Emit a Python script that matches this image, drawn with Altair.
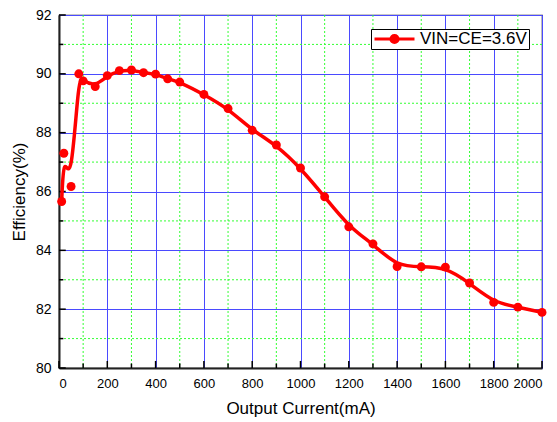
import altair as alt
import pandas as pd

current_ma = [11, 20, 50, 82, 100, 150, 200, 250, 300, 350, 400, 450, 500,
              600, 700, 800, 900, 1000, 1100, 1200, 1300, 1400, 1500, 1600,
              1700, 1800, 1900, 2000]
efficiency = [85.66, 87.30, 86.17, 90.00, 89.76, 89.57, 89.94, 90.11, 90.13,
              90.04, 89.99, 89.83, 89.72, 89.30, 88.82, 88.08, 87.58, 86.80,
              85.82, 84.80, 84.22, 83.45, 83.44, 83.43, 82.89, 82.23, 82.07,
              81.89]
series_name = "VIN=CE=3.6V"

x_major = list(range(0, 2001, 200))
y_major = list(range(80, 93, 2))
x_minor = list(range(100, 2000, 200))
y_minor = list(range(81, 92, 2))

df = pd.DataFrame({"current": current_ma, "eff": efficiency,
                   "series": [series_name] * len(current_ma)})

xscale = alt.Scale(domain=[0, 2000], nice=False, zero=False)
yscale = alt.Scale(domain=[80, 92], nice=False, zero=False)

legend_path = ("M-1,0H1M0.18,0A0.18,0.18 0 1,1 -0.18,0"
               "A0.18,0.18 0 1,1 0.18,0Z")

color = alt.Color("series:N", scale=alt.Scale(range=["#ff0000"]),
                  legend=alt.Legend(title=None, orient="none",
                                    legendX=312, legendY=14,
                                    symbolType=legend_path, symbolSize=1600,
                                    symbolStrokeWidth=3, symbolFillColor="#ff0000",
                                    symbolStrokeColor="#ff0000",
                                    clipHeight=16,
                                    labelFontSize=17, labelFont="Liberation Sans",
                                    labelColor="#000000", labelOffset=4,
                                    strokeColor="#000000", fillColor="#ffffff",
                                    padding=2, offset=0, labelLimit=300))

minor_x = alt.Chart(pd.DataFrame({"v": x_minor})).mark_rule(
    color="#33ff33", strokeDash=[2, 2], strokeWidth=1
).encode(x=alt.X("v:Q", scale=xscale))
minor_y = alt.Chart(pd.DataFrame({"v": y_minor})).mark_rule(
    color="#33ff33", strokeDash=[2, 2], strokeWidth=1
).encode(y=alt.Y("v:Q", scale=yscale))

# inward ticks on bottom and left axes
tick_col = "#000000"
xt_major = alt.Chart(pd.DataFrame({"v": x_major})).mark_rule(
    color=tick_col, strokeWidth=1.5
).encode(x=alt.X("v:Q", scale=xscale), y=alt.datum(80, scale=yscale),
         y2=alt.datum(80.24))
xt_minor = alt.Chart(pd.DataFrame({"v": x_minor})).mark_rule(
    color=tick_col, strokeWidth=1.5
).encode(x=alt.X("v:Q", scale=xscale), y=alt.datum(80, scale=yscale),
         y2=alt.datum(80.15))
yt_major = alt.Chart(pd.DataFrame({"v": y_major})).mark_rule(
    color=tick_col, strokeWidth=1.5
).encode(y=alt.Y("v:Q", scale=yscale), x=alt.datum(0, scale=xscale),
         x2=alt.datum(28))
yt_minor = alt.Chart(pd.DataFrame({"v": y_minor})).mark_rule(
    color=tick_col, strokeWidth=1.5
).encode(y=alt.Y("v:Q", scale=yscale), x=alt.datum(0, scale=xscale),
         x2=alt.datum(18))

base = alt.Chart(df).encode(
    x=alt.X("current:Q", scale=xscale,
            axis=alt.Axis(values=x_major, title="Output Current(mA)",
                          format="d",
                          grid=True, gridColor="#4a4aff", gridWidth=1,
                          gridOpacity=1, domain=True, domainColor="#222222",
                          domainWidth=2, ticks=False,
                          labelFontSize=13, labelFont="Liberation Sans",
                          labelColor="#000000", labelPadding=9,
                          titleFontSize=17, titleFont="Liberation Sans",
                          titleFontWeight="normal", titleColor="#000000",
                          titlePadding=10)),
    y=alt.Y("eff:Q", scale=yscale,
            axis=alt.Axis(values=y_major, title="Efficiency(%)",
                          grid=True, gridColor="#4a4aff", gridWidth=1,
                          gridOpacity=1, domain=True, domainColor="#222222",
                          domainWidth=2, ticks=False,
                          labelFontSize=14, labelFont="Liberation Sans",
                          labelColor="#000000", labelPadding=8,
                          titleFontSize=17, titleFont="Liberation Sans",
                          titleFontWeight="normal", titleColor="#000000",
                          titlePadding=7)),
    color=color,
)

line = base.mark_line(interpolate="basis", strokeWidth=3.5)
points = base.mark_point(filled=True, size=80, opacity=1, shape="circle")

chart = alt.layer(minor_x, minor_y, xt_major, xt_minor, yt_major, yt_minor,
                  line, points).properties(
    width=483, height=353,
    autosize=alt.AutoSizeParams(type="none"),
    padding={"left": 51, "top": 7, "right": 7, "bottom": 52},
).configure_view(stroke="#222222", strokeWidth=1.2)

chart.save("out.html", embed_options={"renderer": "svg", "actions": False})
